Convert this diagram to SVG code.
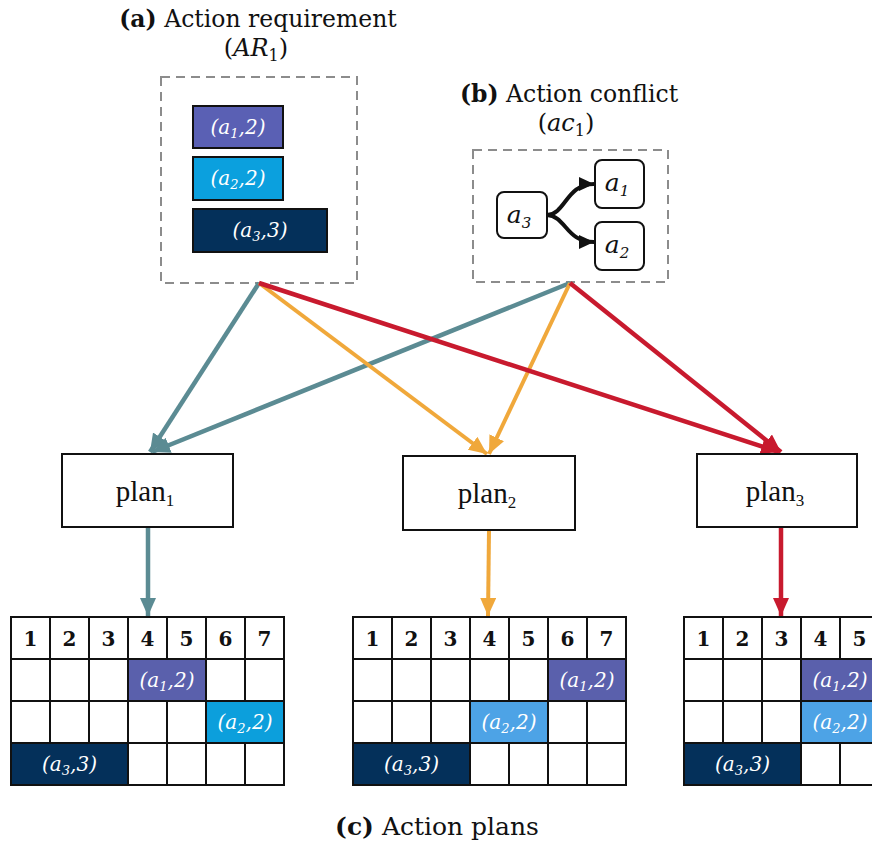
<svg xmlns="http://www.w3.org/2000/svg" width="872" height="847" viewBox="0 0 872 847">
<defs>
<style>
.title{font-family:"DejaVu Serif","Liberation Serif",serif;font-size:23.5px;fill:#111}
.cap{font-family:"DejaVu Serif","Liberation Serif",serif;font-size:25px;fill:#111}
.b{font-weight:bold}
.math{font-family:"DejaVu Serif","Liberation Serif",serif;font-size:24px;fill:#111}
.it{font-style:italic}
.dash{fill:none;stroke:#8c8c8c;stroke-width:2;stroke-dasharray:9 6}
.bar{stroke:#111;stroke-width:2}
.wt{font-family:"DejaVu Serif","Liberation Serif",serif;font-style:italic;font-size:20px;fill:#fff;text-anchor:middle}
.node{fill:#fff;stroke:#111;stroke-width:2}
.nt{font-family:"DejaVu Serif","Liberation Serif",serif;font-style:italic;font-size:25px;fill:#111;text-anchor:middle}
.plan{fill:#fff;stroke:#111;stroke-width:2}
.pt{font-family:"Liberation Serif",serif;font-size:29px;fill:#111;text-anchor:middle}
.cell{fill:#fff;stroke:#111;stroke-width:2}
.hd{font-family:"DejaVu Serif","Liberation Serif",serif;font-weight:bold;font-size:20px;fill:#111;text-anchor:middle}
.c1{fill:#5A60AC;stroke:#111;stroke-width:2}
.c2{fill:#0C9FDC;stroke:#111;stroke-width:2}
.c2b{fill:#4DA3E6;stroke:#111;stroke-width:2}
.c3{fill:#04305A;stroke:#111;stroke-width:2}
.teal{stroke:#5B8B93;stroke-width:4.5;fill:none}
.orange{stroke:#F0A83B;stroke-width:4;fill:none}
.red{stroke:#C81A2E;stroke-width:4.5;fill:none}
.blk{stroke:#111;stroke-width:4;fill:none}
</style>
<marker id="mt" markerUnits="userSpaceOnUse" markerWidth="20" markerHeight="16" refX="18" refY="8" orient="auto"><path d="M0,0 L18,8 L0,16 z" fill="#5B8B93"/></marker>
<marker id="mo" markerUnits="userSpaceOnUse" markerWidth="20" markerHeight="16" refX="18" refY="8" orient="auto"><path d="M0,0 L18,8 L0,16 z" fill="#F0A83B"/></marker>
<marker id="mr" markerUnits="userSpaceOnUse" markerWidth="20" markerHeight="16" refX="18" refY="8" orient="auto"><path d="M0,0 L18,8 L0,16 z" fill="#C81A2E"/></marker>
<marker id="mb" markerUnits="userSpaceOnUse" markerWidth="16" markerHeight="14" refX="15" refY="7" orient="auto"><path d="M0,0 L15,7 L0,14 z" fill="#111"/></marker>
</defs>
<rect width="872" height="847" fill="#fff"/>

<g id="action-requirement">
<text class="title" x="258" y="27" text-anchor="middle"><tspan class="b">(a)</tspan> Action requirement</text>
<text class="math" x="256" y="56" text-anchor="middle">(<tspan class="it">AR</tspan><tspan font-size="16" dy="5">1</tspan><tspan dy="-5">)</tspan></text>
<rect class="dash" x="161" y="77" width="196" height="206"/>
<rect class="bar" x="193" y="106" width="90" height="42" fill="#5A60B4"/>
<text class="wt" x="238" y="134">(a<tspan font-size="13" dy="4">1</tspan><tspan dy="-4">,2)</tspan></text>
<rect class="bar" x="193" y="157" width="90" height="43" fill="#0BA0DE"/>
<text class="wt" x="238" y="185">(a<tspan font-size="13" dy="4">2</tspan><tspan dy="-4">,2)</tspan></text>
<rect class="bar" x="193" y="209" width="134" height="43" fill="#04305A"/>
<text class="wt" x="260" y="237">(a<tspan font-size="13" dy="4">3</tspan><tspan dy="-4">,3)</tspan></text>
</g>

<g id="action-conflict">
<text class="title" x="569" y="102" text-anchor="middle"><tspan class="b">(b)</tspan> Action conflict</text>
<text class="math" x="566" y="131" text-anchor="middle">(<tspan class="it">ac</tspan><tspan font-size="16" dy="5">1</tspan><tspan dy="-5">)</tspan></text>
<rect class="dash" x="473" y="150" width="195" height="132"/>
<g id="node-a3"><rect class="node" x="497" y="192" width="50" height="46" rx="7"/><text class="nt" x="519" y="223">a<tspan font-size="15" dy="5">3</tspan></text></g>
<g id="node-a1"><rect class="node" x="595" y="160" width="49" height="48" rx="7"/><text class="nt" x="617" y="191">a<tspan font-size="15" dy="5">1</tspan></text></g>
<g id="node-a2"><rect class="node" x="595" y="222" width="49" height="48" rx="7"/><text class="nt" x="617" y="253">a<tspan font-size="15" dy="5">2</tspan></text></g>
<g id="conflict-edges">
<path class="blk" d="M547,215 C566,214 566,184 594,184" marker-end="url(#mb)"/>
<path class="blk" d="M547,215 C566,216 566,242 594,242" marker-end="url(#mb)"/>
</g>
</g>

<g id="connectors">
<line class="teal" x1="259" y1="283" x2="150" y2="452" marker-end="url(#mt)"/>
<line class="teal" x1="570" y1="283" x2="152" y2="452" marker-end="url(#mt)"/>
<line class="orange" x1="259" y1="283" x2="487" y2="454" marker-end="url(#mo)"/>
<line class="orange" x1="570" y1="283" x2="489" y2="454" marker-end="url(#mo)"/>
<line class="red" x1="259" y1="283" x2="779" y2="452" marker-end="url(#mr)"/>
<line class="red" x1="570" y1="283" x2="781" y2="452" marker-end="url(#mr)"/>
<line class="teal" x1="148" y1="528" x2="148" y2="616" marker-end="url(#mt)"/>
<line class="orange" x1="489" y1="531" x2="488" y2="616" marker-end="url(#mo)"/>
<line class="red" x1="781" y1="528" x2="781" y2="616" marker-end="url(#mr)"/>
</g>

<g id="plan1"><rect class="plan" x="62" y="454" width="171" height="73"/><text class="pt" x="145" y="501">plan<tspan font-size="17" dy="5">1</tspan></text></g>
<g id="plan2"><rect class="plan" x="403" y="456" width="172" height="74"/><text class="pt" x="487" y="503">plan<tspan font-size="17" dy="5">2</tspan></text></g>
<g id="plan3"><rect class="plan" x="697" y="454" width="160" height="73"/><text class="pt" x="775" y="501">plan<tspan font-size="17" dy="5">3</tspan></text></g>

<g id="table1">
<rect class="cell" x="11" y="617" width="39" height="42"/><rect class="cell" x="50" y="617" width="39" height="42"/><rect class="cell" x="89" y="617" width="39" height="42"/><rect class="cell" x="128" y="617" width="39" height="42"/><rect class="cell" x="167" y="617" width="39" height="42"/><rect class="cell" x="206" y="617" width="39" height="42"/><rect class="cell" x="245" y="617" width="39" height="42"/>
<text class="hd" x="30.5" y="646">1</text><text class="hd" x="69.5" y="646">2</text><text class="hd" x="108.5" y="646">3</text><text class="hd" x="147.5" y="646">4</text><text class="hd" x="186.5" y="646">5</text><text class="hd" x="225.5" y="646">6</text><text class="hd" x="264.5" y="646">7</text>
<rect class="cell" x="11" y="659" width="39" height="42"/><rect class="cell" x="50" y="659" width="39" height="42"/><rect class="cell" x="89" y="659" width="39" height="42"/><rect class="c1" x="128" y="659" width="78" height="42"/><rect class="cell" x="206" y="659" width="39" height="42"/><rect class="cell" x="245" y="659" width="39" height="42"/>
<text class="wt" x="167" y="687">(a<tspan font-size="13" dy="4">1</tspan><tspan dy="-4">,2)</tspan></text>
<rect class="cell" x="11" y="701" width="39" height="42"/><rect class="cell" x="50" y="701" width="39" height="42"/><rect class="cell" x="89" y="701" width="39" height="42"/><rect class="cell" x="128" y="701" width="39" height="42"/><rect class="cell" x="167" y="701" width="39" height="42"/><rect class="c2" x="206" y="701" width="78" height="42"/>
<text class="wt" x="245" y="729">(a<tspan font-size="13" dy="4">2</tspan><tspan dy="-4">,2)</tspan></text>
<rect class="c3" x="11" y="743" width="117" height="42"/><rect class="cell" x="128" y="743" width="39" height="42"/><rect class="cell" x="167" y="743" width="39" height="42"/><rect class="cell" x="206" y="743" width="39" height="42"/><rect class="cell" x="245" y="743" width="39" height="42"/>
<text class="wt" x="69.5" y="771">(a<tspan font-size="13" dy="4">3</tspan><tspan dy="-4">,3)</tspan></text>
</g>

<g id="table2">
<rect class="cell" x="353" y="617" width="39" height="42"/><rect class="cell" x="392" y="617" width="39" height="42"/><rect class="cell" x="431" y="617" width="39" height="42"/><rect class="cell" x="470" y="617" width="39" height="42"/><rect class="cell" x="509" y="617" width="39" height="42"/><rect class="cell" x="548" y="617" width="39" height="42"/><rect class="cell" x="587" y="617" width="39" height="42"/>
<text class="hd" x="372.5" y="646">1</text><text class="hd" x="411.5" y="646">2</text><text class="hd" x="450.5" y="646">3</text><text class="hd" x="489.5" y="646">4</text><text class="hd" x="528.5" y="646">5</text><text class="hd" x="567.5" y="646">6</text><text class="hd" x="606.5" y="646">7</text>
<rect class="cell" x="353" y="659" width="39" height="42"/><rect class="cell" x="392" y="659" width="39" height="42"/><rect class="cell" x="431" y="659" width="39" height="42"/><rect class="cell" x="470" y="659" width="39" height="42"/><rect class="cell" x="509" y="659" width="39" height="42"/><rect class="c1" x="548" y="659" width="78" height="42"/>
<text class="wt" x="587" y="687">(a<tspan font-size="13" dy="4">1</tspan><tspan dy="-4">,2)</tspan></text>
<rect class="cell" x="353" y="701" width="39" height="42"/><rect class="cell" x="392" y="701" width="39" height="42"/><rect class="cell" x="431" y="701" width="39" height="42"/><rect class="c2b" x="470" y="701" width="78" height="42"/><rect class="cell" x="548" y="701" width="39" height="42"/><rect class="cell" x="587" y="701" width="39" height="42"/>
<text class="wt" x="509" y="729">(a<tspan font-size="13" dy="4">2</tspan><tspan dy="-4">,2)</tspan></text>
<rect class="c3" x="353" y="743" width="117" height="42"/><rect class="cell" x="470" y="743" width="39" height="42"/><rect class="cell" x="509" y="743" width="39" height="42"/><rect class="cell" x="548" y="743" width="39" height="42"/><rect class="cell" x="587" y="743" width="39" height="42"/>
<text class="wt" x="411.5" y="771">(a<tspan font-size="13" dy="4">3</tspan><tspan dy="-4">,3)</tspan></text>
</g>

<g id="table3">
<rect class="cell" x="684" y="617" width="39" height="42"/><rect class="cell" x="723" y="617" width="39" height="42"/><rect class="cell" x="762" y="617" width="39" height="42"/><rect class="cell" x="801" y="617" width="39" height="42"/><rect class="cell" x="840" y="617" width="39" height="42"/>
<text class="hd" x="703.5" y="646">1</text><text class="hd" x="742.5" y="646">2</text><text class="hd" x="781.5" y="646">3</text><text class="hd" x="820.5" y="646">4</text><text class="hd" x="859.5" y="646">5</text>
<rect class="cell" x="684" y="659" width="39" height="42"/><rect class="cell" x="723" y="659" width="39" height="42"/><rect class="cell" x="762" y="659" width="39" height="42"/><rect class="c1" x="801" y="659" width="78" height="42"/>
<text class="wt" x="840" y="687">(a<tspan font-size="13" dy="4">1</tspan><tspan dy="-4">,2)</tspan></text>
<rect class="cell" x="684" y="701" width="39" height="42"/><rect class="cell" x="723" y="701" width="39" height="42"/><rect class="cell" x="762" y="701" width="39" height="42"/><rect class="c2b" x="801" y="701" width="78" height="42"/>
<text class="wt" x="840" y="729">(a<tspan font-size="13" dy="4">2</tspan><tspan dy="-4">,2)</tspan></text>
<rect class="c3" x="684" y="743" width="117" height="42"/><rect class="cell" x="801" y="743" width="39" height="42"/><rect class="cell" x="840" y="743" width="39" height="42"/>
<text class="wt" x="742.5" y="771">(a<tspan font-size="13" dy="4">3</tspan><tspan dy="-4">,3)</tspan></text>
</g>

<g id="caption">
<text class="cap" x="437" y="835" text-anchor="middle"><tspan class="b">(c)</tspan> Action plans</text>
</g>
</svg>
